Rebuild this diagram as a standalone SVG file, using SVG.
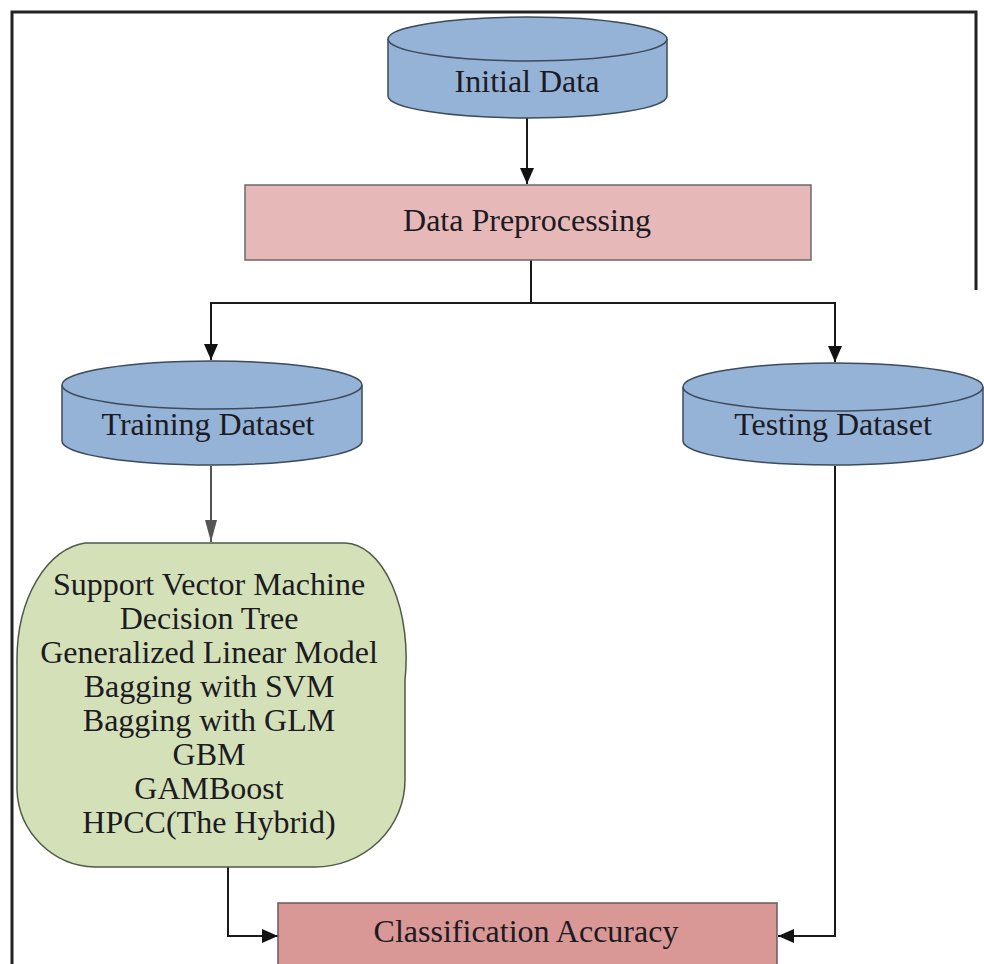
<svg xmlns="http://www.w3.org/2000/svg" width="984" height="964" viewBox="0 0 984 964">
  <style>
    .lbl { font-family: "Liberation Serif", "Times New Roman", serif; font-size: 32px; fill: #1c1a22; text-anchor: middle; }
    .cyl { fill: #95b3d7; stroke: #3c4a5c; stroke-width: 1.5; }
    .conn { fill: none; stroke: #1a1a1a; stroke-width: 2; }
  </style>
  <defs>
    <marker id="arr" viewBox="0 0 16 14" refX="16" refY="7" markerWidth="16" markerHeight="14" markerUnits="userSpaceOnUse" orient="auto">
      <path d="M0,0 L16,7 L0,14 Z" fill="#111"/>
    </marker>
    <marker id="arrGray" viewBox="0 0 22 12" refX="22" refY="6" markerWidth="22" markerHeight="12" markerUnits="userSpaceOnUse" orient="auto">
      <path d="M0,0 L22,6 L0,12 Z" fill="#555"/>
    </marker>
  </defs>

  <rect width="984" height="964" fill="#ffffff"/>

  <!-- outer frame -->
  <path d="M12,964 V12 H976 V290" fill="none" stroke="#222" stroke-width="3"/>

  <!-- connectors -->
  <g id="connectors">
    <path class="conn" d="M527,118 V184" marker-end="url(#arr)"/>
    <path class="conn" d="M531,260 V303 H211 V360" marker-end="url(#arr)"/>
    <path class="conn" d="M531,303 H835 V362" marker-end="url(#arr)"/>
    <path d="M211,466 V542" fill="none" stroke="#555" stroke-width="2" marker-end="url(#arrGray)"/>
    <path class="conn" d="M228,867 V936 H278" marker-end="url(#arr)"/>
    <path class="conn" d="M835,466 V936 H778" marker-end="url(#arr)"/>
  </g>

  <!-- Initial Data cylinder -->
  <g id="initial-data">
    <path class="cyl" d="M388,39 V96 A139.5,22 0 0 0 667,96 V39"/>
    <ellipse class="cyl" cx="527.5" cy="39" rx="139.5" ry="22"/>
    <text class="lbl" x="527" y="92" font-size="30">Initial Data</text>
  </g>

  <!-- Data Preprocessing -->
  <g id="data-preprocessing">
    <rect x="245" y="185" width="566" height="75" fill="#e6b9b8" stroke="#6a6a6a" stroke-width="1.5"/>
    <text class="lbl" x="527" y="231">Data Preprocessing</text>
  </g>

  <!-- Training Dataset cylinder -->
  <g id="training-dataset">
    <path class="cyl" d="M62,385 V441 A150,24 0 0 0 362,441 V385"/>
    <ellipse class="cyl" cx="212" cy="385" rx="150" ry="24"/>
    <text class="lbl" x="208" y="435" font-size="30">Training Dataset</text>
  </g>

  <!-- Testing Dataset cylinder -->
  <g id="testing-dataset">
    <path class="cyl" d="M683,387 V441 A150,24 0 0 0 983,441 V387"/>
    <ellipse class="cyl" cx="833" cy="387" rx="150" ry="24"/>
    <text class="lbl" x="833" y="435" font-size="30">Testing Dataset</text>
  </g>

  <!-- Classifier list -->
  <g id="classifiers">
    <path d="M85,543 H345 A62,115 0 0 1 405,680 V780 A90,87 0 0 1 315,867 H95 A80,80 0 0 1 17,790 V660 A75,117 0 0 1 85,543 Z" fill="#d4e1b8" stroke="#4e5a44" stroke-width="1.5"/>
    <text class="lbl" x="209" y="595">Support Vector Machine</text>
    <text class="lbl" x="209" y="629">Decision Tree</text>
    <text class="lbl" x="209" y="663">Generalized Linear Model</text>
    <text class="lbl" x="209" y="697">Bagging with SVM</text>
    <text class="lbl" x="209" y="731">Bagging with GLM</text>
    <text class="lbl" x="209" y="765">GBM</text>
    <text class="lbl" x="209" y="799">GAMBoost</text>
    <text class="lbl" x="209" y="833">HPCC(The Hybrid)</text>
  </g>

  <!-- Classification Accuracy -->
  <g id="classification-accuracy">
    <rect x="278" y="903" width="499" height="80" fill="#d99795" stroke="#6a5a5a" stroke-width="1.5"/>
    <text class="lbl" x="526" y="942">Classification Accuracy</text>
  </g>
</svg>
